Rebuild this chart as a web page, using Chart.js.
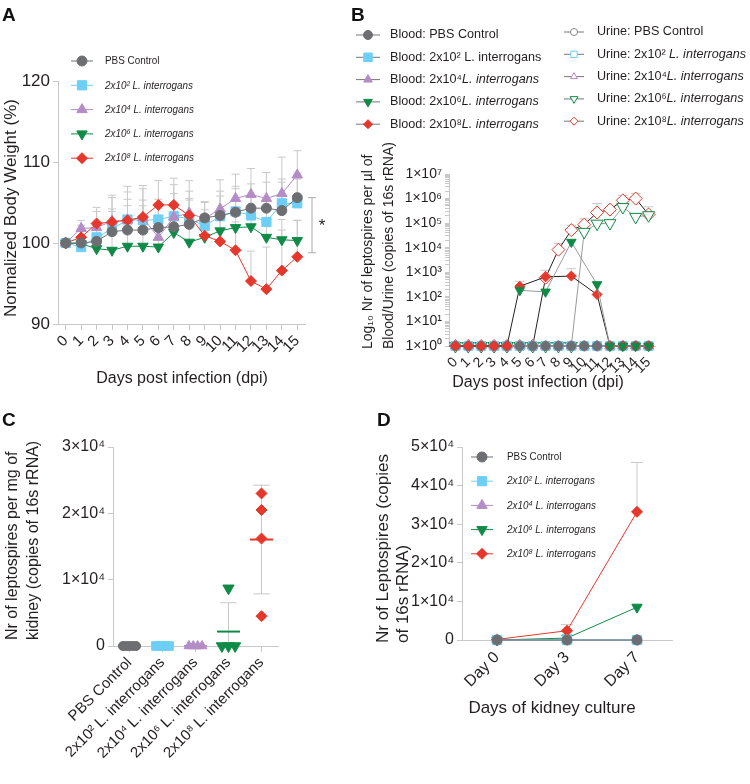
<!DOCTYPE html>
<html>
<head>
<meta charset="utf-8">
<script src="https://cdn.jsdelivr.net/npm/chart.js@4.4.1/dist/chart.umd.min.js"></script>
<style>
  body { margin: 0; background: #fff; }
  #figura { position: relative; width: 750px; height: 784px; overflow: hidden; }
  .painel { position: absolute; }
  .letra { position: absolute; font: bold 19px "Liberation Sans", Arial, sans-serif; line-height: 19px; color: #111; }
</style>
</head>
<body>
<div id="figura">
  <div class="painel" style="left:0;top:0;width:350px;height:400px"><canvas id="graficoA"></canvas></div>
  <div class="painel" style="left:350px;top:0;width:400px;height:400px"><canvas id="graficoB"></canvas></div>
  <div class="painel" style="left:0;top:400px;width:375px;height:384px"><canvas id="graficoC"></canvas></div>
  <div class="painel" style="left:375px;top:400px;width:375px;height:384px"><canvas id="graficoD"></canvas></div>
  <div class="letra" style="left:2px;top:5px">A</div>
  <div class="letra" style="left:351px;top:5px">B</div>
  <div class="letra" style="left:2px;top:410px">C</div>
  <div class="letra" style="left:377px;top:410px">D</div>
</div>
<script>
// Painel A - peso corporal normalizado (%)
const diasA = ['0','1','2','3','4','5','6','7','8','9','10','11','12','13','14','15'];
const pesoPBS = [100, 100, 100.2, 101.4, 101.6, 101.6, 101.9, 102.0, 102.3, 103.1, 103.4, 103.8, 104.3, 104.3, 104.0, 105.6];
const pesoE2  = [100, 99.5, 100.7, 101.7, 102.9, 102.8, 102.9, 103.3, 103.0, 102.1, 103.3, 103.9, 103.4, 102.6, 104.9, 104.9];
const pesoE4  = [100, 101.8, 101.9, 102.7, 102.8, 103.1, 100.7, 103.2, 103.7, 103.0, 104.2, 105.5, 106.0, 105.5, 106.1, 108.4];
const pesoE6  = [100, 99.9, 99.3, 99.1, 99.6, 99.6, 99.5, 101.3, 100.1, 100.7, 101.5, 101.9, 102.0, 100.7, 100.4, 100.3];
const pesoE8  = [100, 100.7, 102.4, 102.6, 102.8, 103.2, 104.7, 104.7, 103.4, 100.9, 100.2, 99.1, 95.3, 94.3, 96.6, 98.3];
// erro (parte superior) de cada grupo
const erroPBS = [0, 1.5, 2.0, 2.5, 3.0, 3.0, 3.0, 3.0, 3.0, 2.0, 3.0, 3.2, 3.0, 3.2, 3.5, 3.0];
const erroE2  = [0, 1.0, 1.5, 2.5, 2.5, 2.5, 2.5, 2.8, 2.5, 2.0, 2.5, 2.8, 2.5, 3.0, 3.0, 3.0];
const erroE4  = [0, 1.0, 2.0, 3.2, 4.2, 4.0, 4.0, 4.0, 4.0, 2.0, 3.6, 3.0, 3.2, 3.2, 4.5, 3.0];
const erroE6  = [0, 1.0, 1.5, 2.0, 2.0, 2.0, 2.0, 2.5, 2.0, 2.0, 2.0, 2.0, 2.0, 2.0, 2.5, 2.5];
const erroE8  = [0, 1.5, 2.0, 3.0, 3.5, 3.5, 3.0, 3.3, 3.0, 2.5, 3.0, 3.5, 3.7, 5.2, 5.0, 4.5];
const chaveA = [98.8, 105.6]; // barra de significancia (*)

// Painel B - leptospiras no sangue e na urina (escala log)
const diasB = ['0','1','2','3','4','5','6','7','8','9','10','11','12','13','14','15'];
const sangueBase = [1, 1, 1, 1, 1, 1, 1, 1, 1, 1, 1, 1, 1, 1, 1, 1];
const sangueE6 = [null, null, null, null, null, 185, null, 160, null, 17000, null, 320, 1, 1, 1, 1];
const sangueE8 = [1, 1, 1, 1, 1, 270, null, 650, null, 700, null, 125, 1, 1, 1, 1];
const erroSangueE8 = [0, 0, 0, 0, 0, 160, 0, 550, 0, 700, 0, 0, 0, 0, 0, 0];
const urinaBase = [1, 1, 1, 1, 1, 1, 1, 1, 1, 1, 1, 1, 1, 1, 1, 1];
const urinaE6 = [1, 1, 1, 1, 1, 1, 1, 1, 1, 1, 44000, 95000, 100000, 450000, 180000, 210000];
const urinaE8 = [1, 1, 1, 1, 1, 1, 1, 600, 8300, 52000, 87000, 270000, 355000, 850000, 1000000, 224000];
const erroUrinaE8 = [0, 0, 0, 0, 0, 0, 0, 0, 6700, 30000, 63000, 360000, 0, 500000, 600000, 236000];

// Painel C - leptospiras por mg de rim (animais individuais)
const gruposC = ['PBS Control', '2x10\u00b2 L. interrogans', '2x10\u2074 L. interrogans', '2x10\u2076 L. interrogans', '2x10\u2078 L. interrogans'];
const rimPBS = [0, 0, 0, 0, 0];
const rimE2  = [0, 0, 0, 0, 0];
const rimE4  = [0, 0, 0, 0];
const rimE6  = [0, 0, 0, 8700];
const rimE8  = [23000, 20500, 16200, 4500];

// Painel D - cultura de rim
const diasCultura = ['Day 0', 'Day 3', 'Day 7'];
const culturaPBS = [0, 0, 0];
const culturaE2  = [0, 0, 0];
const culturaE4  = [0, 0, 0];
const culturaE6  = [0, 500, 8500];
const culturaE8  = [150, 2400, 33200];
const erroCulturaE8 = [0, 1600, 12800];

// Cores e fontes
const cinza = '#6d6e71', azul = '#6dcff6', roxo = '#b48cc6', verde = '#0f8b47', vermelho = '#e5372c';
const corEixo = '#c8c8c8', corTexto = '#231f20', corErro = '#c9c9c9';
const fonte = '"Liberation Sans", Arial, sans-serif';
const sobrescrito = '\u2070\u00b9\u00b2\u00b3\u2074\u2075\u2076\u2077\u2078\u2079';

Chart.defaults.font.family = fonte;
Chart.defaults.color = corTexto;
Chart.defaults.animation = false;
Chart.defaults.plugins.legend.display = false;
Chart.defaults.plugins.tooltip.enabled = false;

// Barras de erro (só para cima), desenhadas atrás dos pontos
const pluginErro = {
    id: 'barrasErro',
    beforeDatasetsDraw(chart, args, opc) {
        const ctx = chart.ctx;
        const escalaY = chart.scales.y;
        ctx.save();
        ctx.strokeStyle = corErro;
        ctx.lineWidth = 1;
        chart.data.datasets.forEach((ds, i) => {
            if (!ds.erro) return;
            chart.getDatasetMeta(i).data.forEach((ponto, j) => {
                const v = ds.data[j];
                const e = ds.erro[j];
                if (v == null || !e) return;
                const yTopo = escalaY.getPixelForValue(v + e);
                ctx.beginPath();
                ctx.moveTo(ponto.x, ponto.y);
                ctx.lineTo(ponto.x, yTopo);
                ctx.moveTo(ponto.x - opc.cap, yTopo);
                ctx.lineTo(ponto.x + opc.cap, yTopo);
                ctx.stroke();
            });
        });
        ctx.restore();
    }
};

// Textos livres (títulos de eixo, asterisco)
const pluginTextos = {
    id: 'textos',
    afterDraw(chart, args, opc) {
        const ctx = chart.ctx;
        (opc.itens || []).forEach(t => {
            ctx.save();
            ctx.translate(t.x, t.y);
            if (t.rot) ctx.rotate(t.rot * Math.PI / 180);
            ctx.font = t.tamanho + 'px ' + fonte;
            ctx.fillStyle = corTexto;
            ctx.textAlign = t.alinhar || 'center';
            ctx.textBaseline = 'middle';
            ctx.fillText(t.texto, 0, 0);
            ctx.restore();
        });
    }
};

// Legenda com trechos em itálico e marcadores iguais aos do gráfico
const pluginLegenda = {
    id: 'legendaRica',
    afterDraw(chart, args, opc) {
        const ctx = chart.ctx;
        (opc.colunas || []).forEach(col => {
            col.itens.forEach((item, i) => {
                const y = col.y + i * col.passo;
                ctx.save();
                ctx.lineWidth = 1;
                ctx.strokeStyle = col.corLinha || item.cor;
                ctx.beginPath();
                ctx.moveTo(col.x - col.meiaLinha, y);
                ctx.lineTo(col.x + col.meiaLinha, y);
                ctx.stroke();
                ctx.fillStyle = item.aberto ? '#fff' : item.cor;
                ctx.strokeStyle = item.cor;
                Chart.helpers.drawPoint(ctx, { pointStyle: item.estilo, rotation: item.rot || 0, radius: item.raio, borderWidth: 1 }, col.x, y);
                ctx.translate(col.xTexto, y);
                ctx.scale(col.escala || 1, 1);
                ctx.fillStyle = corTexto;
                ctx.textBaseline = 'middle';
                let x = 0;
                item.partes.forEach(([txt, italico]) => {
                    ctx.font = (italico ? 'italic ' : '') + col.tamanho + 'px ' + fonte;
                    ctx.fillText(txt, x, 0);
                    x += ctx.measureText(txt).width;
                });
                ctx.restore();
            });
        });
    }
};

// Barra de significância do painel A
const pluginChave = {
    id: 'chave',
    afterDraw(chart, args, opc) {
        if (!opc.valores) return;
        const ctx = chart.ctx;
        const y1 = chart.scales.y.getPixelForValue(opc.valores[0]);
        const y2 = chart.scales.y.getPixelForValue(opc.valores[1]);
        const x = chart.chartArea.right + opc.distancia;
        ctx.save();
        ctx.strokeStyle = '#aaa';
        ctx.lineWidth = 1;
        ctx.beginPath();
        ctx.moveTo(x - 4, y1); ctx.lineTo(x + 4, y1);
        ctx.moveTo(x, y1); ctx.lineTo(x, y2);
        ctx.moveTo(x - 4, y2); ctx.lineTo(x + 4, y2);
        ctx.stroke();
        ctx.restore();
    }
};

// Média e desvio padrão do painel C (calculados a partir dos animais)
function mediaDP(valores) {
    const n = valores.length;
    const media = valores.reduce((a, b) => a + b, 0) / n;
    const dp = Math.sqrt(valores.reduce((a, b) => a + (b - media) ** 2, 0) / (n - 1));
    return { media, dp };
}

const pluginMedia = {
    id: 'mediaDP',
    beforeDatasetsDraw(chart) {
        const ctx = chart.ctx, ex = chart.scales.x, ey = chart.scales.y;
        ctx.save();
        ctx.strokeStyle = corErro;
        ctx.lineWidth = 1;
        chart.data.datasets.forEach((ds, i) => {
            const { media, dp } = mediaDP(ds.valores);
            if (!dp) return;
            const xc = ex.getPixelForValue(i);
            const cap = ex.getPixelForValue(i + 0.25) - xc;
            const topo = ey.getPixelForValue(media + dp);
            const baixo = ey.getPixelForValue(Math.max(media - dp, 0));
            ctx.beginPath();
            ctx.moveTo(xc, topo); ctx.lineTo(xc, baixo);
            ctx.moveTo(xc - cap, topo); ctx.lineTo(xc + cap, topo);
            if (media - dp > 0) { ctx.moveTo(xc - cap, baixo); ctx.lineTo(xc + cap, baixo); }
            ctx.stroke();
        });
        ctx.restore();
    },
    afterDatasetsDraw(chart) {
        const ctx = chart.ctx, ex = chart.scales.x, ey = chart.scales.y;
        ctx.save();
        ctx.lineWidth = 2;
        chart.data.datasets.forEach((ds, i) => {
            const { media } = mediaDP(ds.valores);
            const xc = ex.getPixelForValue(i);
            const meia = ex.getPixelForValue(i + 0.35) - xc;
            const y = ey.getPixelForValue(media);
            ctx.strokeStyle = ds.backgroundColor;
            ctx.beginPath();
            ctx.moveTo(xc - meia, y); ctx.lineTo(xc + meia, y);
            ctx.stroke();
        });
        ctx.restore();
    }
};

// Espalha horizontalmente os animais com valores repetidos
function espalhar(valores, grupo) {
    return valores.map((v, k) => {
        const iguais = valores.filter(w => w === v).length;
        if (iguais < 2) return { x: grupo, y: v };
        const pos = valores.slice(0, k).filter(w => w === v).length;
        return { x: grupo + (pos - (iguais - 1) / 2) * 0.4 / (iguais - 1), y: v };
    });
}

function serie(valores, cor, estilo, rot, raio, extra) {
    return Object.assign({
        data: valores,
        borderColor: cor,
        backgroundColor: cor,
        pointBackgroundColor: cor,
        pointBorderColor: cor,
        pointStyle: estilo,
        pointRotation: rot,
        pointRadius: raio,
        pointBorderWidth: 1,
        borderWidth: 1,
        tension: 0,
        clip: false,
        spanGaps: true
    }, extra || {});
}

function eixoX(altura, tamanho, extra) {
    return Object.assign({
        offset: true,
        grid: { drawOnChartArea: false, color: corEixo, tickLength: 6 },
        border: { color: corEixo },
        ticks: { font: { size: tamanho }, minRotation: 45, maxRotation: 45, autoSkip: false, padding: 2, color: corTexto },
        afterFit: s => { s.height = altura; }
    }, extra || {});
}

function eixoY(largura, tamanho, extra) {
    return Object.assign({
        grid: { drawOnChartArea: false, color: corEixo, tickLength: 5 },
        border: { color: corEixo },
        afterFit: s => { s.width = largura; }
    }, extra || {}, {
        ticks: Object.assign({ font: { size: tamanho }, padding: 3, color: corTexto }, (extra && extra.ticks) || {})
    });
}

const itensPadrao = [
    { partes: [['PBS Control', false]], cor: cinza, estilo: 'circle', raio: 5 },
    { partes: [['2x10\u00b2 L. interrogans', true]], cor: azul, estilo: 'rect', raio: 6.5 },
    { partes: [['2x10\u2074 L. interrogans', true]], cor: roxo, estilo: 'triangle', raio: 6 },
    { partes: [['2x10\u2076 L. interrogans', true]], cor: verde, estilo: 'triangle', rot: 180, raio: 6 },
    { partes: [['2x10\u2078 L. interrogans', true]], cor: vermelho, estilo: 'rectRot', raio: 5.5 }
];

// ---------- Painel A ----------
new Chart(document.getElementById('graficoA'), {
    type: 'line',
    data: {
        labels: diasA,
        datasets: [
            serie(pesoPBS, cinza, 'circle', 0, 5, { erro: erroPBS }),
            serie(pesoE8, vermelho, 'rectRot', 0, 5.5, { erro: erroE8 }),
            serie(pesoE4, roxo, 'triangle', 0, 6, { erro: erroE4 }),
            serie(pesoE2, azul, 'rect', 0, 6.5, { erro: erroE2 }),
            serie(pesoE6, verde, 'triangle', 180, 6, { erro: erroE6 })
        ]
    },
    options: {
        responsive: true,
        maintainAspectRatio: false,
        layout: { padding: { top: 81, right: 45, left: 0, bottom: 0 } },
        scales: {
            x: eixoX(76, 15),
            y: eixoY(58, 17, { min: 90, max: 120, ticks: { stepSize: 10 } })
        },
        plugins: {
            barrasErro: { cap: 4 },
            chave: { valores: chaveA, distancia: 7 },
            legendaRica: { colunas: [{ x: 82, meiaLinha: 11, xTexto: 105, y: 61, passo: 24.3, tamanho: 11.5, escala: 0.86, corLinha: null, itens: itensPadrao }] },
            textos: { itens: [
                { texto: 'Normalized Body Weight (%)', x: 11, y: 317, rot: -90, tamanho: 17, alinhar: 'left' },
                { texto: 'Days post infection (dpi)', x: 182, y: 379, tamanho: 16 },
                { texto: '*', x: 322, y: 226, tamanho: 17 }
            ] }
        }
    },
    plugins: [pluginErro, pluginChave, pluginLegenda, pluginTextos]
});

// ---------- Painel B ----------
function rotuloLog(v) {
    const p = Math.round(Math.log10(v));
    if (10 ** p !== v) return '';
    return '1\u00d710' + sobrescrito[p];
}

const aberto = { pointBackgroundColor: '#fff' };
new Chart(document.getElementById('graficoB'), {
    type: 'line',
    data: {
        labels: diasB,
        datasets: [
            serie(sangueE6, verde, 'triangle', 180, 5.5, { borderColor: '#9a9a9a' }),
            serie(sangueE8, vermelho, 'rectRot', 0, 5, { borderColor: '#222', erro: erroSangueE8 }),
            serie(sangueBase, cinza, 'circle', 0, 4.5),
            serie(sangueBase, azul, 'rect', 0, 6),
            serie(sangueBase, roxo, 'triangle', 0, 5.5),
            serie(urinaBase, '#c9a3d6', 'circle', 0, 5, aberto),
            serie(urinaBase, azul, 'rect', 0, 6, aberto),
            serie(urinaBase, roxo, 'triangle', 0, 6, aberto),
            serie(urinaE6, verde, 'triangle', 180, 7, Object.assign({ borderColor: '#9a9a9a' }, aberto)),
            serie(urinaE8, vermelho, 'rectRot', 0, 6.5, Object.assign({ borderColor: '#222', erro: erroUrinaE8 }, aberto))
        ]
    },
    options: {
        responsive: true,
        maintainAspectRatio: false,
        layout: { padding: { top: 174, right: 95, left: 0, bottom: 0 } },
        scales: {
            x: eixoX(54, 14),
            y: eixoY(99, 14, {
                type: 'logarithmic',
                min: 1,
                max: 1e7,
                afterBuildTicks: s => {
                    const marcas = [];
                    for (let d = 0; d < 7; d++) {
                        for (let k = 1; k < 10; k++) marcas.push({ value: k * 10 ** d });
                    }
                    marcas.push({ value: 1e7 });
                    s.ticks = marcas;
                },
                grid: { drawOnChartArea: false, color: corEixo, tickLength: 4 },
                ticks: { autoSkip: false, callback: rotuloLog }
            })
        },
        plugins: {
            barrasErro: { cap: 5 },
            legendaRica: { colunas: [
                { x: 18, meiaLinha: 12, xTexto: 40, y: 35, passo: 22.3, tamanho: 12.6, corLinha: '#777', itens: [
                    { partes: [['Blood: PBS Control', false]], cor: cinza, estilo: 'circle', raio: 4.5 },
                    { partes: [['Blood: 2x10\u00b2 L. interrogans', false]], cor: azul, estilo: 'rect', raio: 6 },
                    { partes: [['Blood: 2x10\u2074', false], ['L. interrogans', true]], cor: roxo, estilo: 'triangle', raio: 5 },
                    { partes: [['Blood: 2x10\u2076', false], ['L. interrogans', true]], cor: verde, estilo: 'triangle', rot: 180, raio: 5 },
                    { partes: [['Blood: 2x10\u2078', false], ['L. interrogans', true]], cor: vermelho, estilo: 'rectRot', raio: 4.5 }
                ] },
                { x: 224, meiaLinha: 10, xTexto: 247, y: 32, passo: 22.3, tamanho: 12.6, corLinha: '#777', itens: [
                    { partes: [['Urine: PBS Control', false]], cor: '#888', estilo: 'circle', raio: 3.5, aberto: true },
                    { partes: [['Urine: 2x10\u00b2 ', false], ['L. interrogans', true]], cor: azul, estilo: 'rect', raio: 4.5, aberto: true },
                    { partes: [['Urine: 2x10\u2074', false], ['L. interrogans', true]], cor: roxo, estilo: 'triangle', raio: 4, aberto: true },
                    { partes: [['Urine: 2x10\u2076', false], ['L. interrogans', true]], cor: verde, estilo: 'triangle', rot: 180, raio: 4.5, aberto: true },
                    { partes: [['Urine: 2x10\u2078', false], ['L. interrogans', true]], cor: vermelho, estilo: 'rectRot', raio: 4, aberto: true }
                ] }
            ] },
            textos: { itens: [
                { texto: 'Log\u2081\u2080 Nr of leptospires per \u00b5l of', x: 18, y: 349, rot: -90, tamanho: 14, alinhar: 'left' },
                { texto: 'Blood/Urine (copies of 16s rRNA)', x: 39, y: 349, rot: -90, tamanho: 14, alinhar: 'left' },
                { texto: 'Days post infection (dpi)', x: 188, y: 383, tamanho: 16 }
            ] }
        }
    },
    plugins: [pluginErro, pluginLegenda, pluginTextos]
});

// ---------- Painel C ----------
function pontosC(valores, grupo, cor, estilo, rot, raio) {
    return {
        data: espalhar(valores, grupo),
        valores: valores,
        backgroundColor: cor,
        borderColor: cor,
        pointStyle: estilo,
        pointRotation: rot,
        pointRadius: raio,
        clip: false
    };
}

new Chart(document.getElementById('graficoC'), {
    type: 'scatter',
    data: {
        datasets: [
            pontosC(rimPBS, 0, cinza, 'circle', 0, 4.5),
            pontosC(rimE2, 1, azul, 'rect', 0, 6),
            pontosC(rimE4, 2, roxo, 'triangle', 0, 5.5),
            pontosC(rimE6, 3, verde, 'triangle', 180, 6.5),
            pontosC(rimE8, 4, vermelho, 'rectRot', 0, 5.5)
        ]
    },
    options: {
        responsive: true,
        maintainAspectRatio: false,
        layout: { padding: { top: 47, right: 97, left: 0, bottom: 0 } },
        scales: {
            x: eixoX(138, 15, {
                type: 'linear',
                offset: false,
                min: -0.5,
                max: 4.5,
                afterBuildTicks: s => { s.ticks = gruposC.map((nome, i) => ({ value: i })); },
                ticks: { font: { size: 15 }, minRotation: 45, maxRotation: 45, autoSkip: false, padding: 2, color: corTexto,
                    callback: v => gruposC[v] }
            }),
            y: eixoY(113, 16, { min: 0, max: 30000, ticks: { stepSize: 10000,
                callback: v => v === 0 ? '0' : (v / 10000) + '\u00d710\u2074' } })
        },
        plugins: {
            textos: { itens: [
                { texto: 'Nr of leptospires per mg of', x: 13, y: 240, rot: -90, tamanho: 16, alinhar: 'left' },
                { texto: 'kidney (copies of 16s rRNA)', x: 34, y: 240, rot: -90, tamanho: 16, alinhar: 'left' }
            ] }
        }
    },
    plugins: [pluginMedia, pluginTextos]
});

// ---------- Painel D ----------
new Chart(document.getElementById('graficoD'), {
    type: 'line',
    data: {
        labels: diasCultura,
        datasets: [
            serie(culturaPBS, cinza, 'circle', 0, 5),
            serie(culturaE2, azul, 'rect', 0, 6.5),
            serie(culturaE4, roxo, 'triangle', 0, 6),
            serie(culturaE8, vermelho, 'rectRot', 0, 5.5, { erro: erroCulturaE8 }),
            serie(culturaE6, verde, 'triangle', 180, 6)
        ]
    },
    options: {
        responsive: true,
        maintainAspectRatio: false,
        layout: { padding: { top: 47, right: 78, left: 0, bottom: 0 } },
        scales: {
            x: eixoX(144, 16),
            y: eixoY(87, 16, { min: 0, max: 50000, ticks: { stepSize: 10000,
                callback: v => v === 0 ? '0' : (v / 10000) + '\u00d710\u2074' } })
        },
        plugins: {
            barrasErro: { cap: 6 },
            legendaRica: { colunas: [{ x: 107, meiaLinha: 11, xTexto: 132, y: 57, passo: 24.2, tamanho: 11.5, escala: 0.86, itens: itensPadrao }] },
            textos: { itens: [
                { texto: 'Nr of Leptospires (copies', x: 8, y: 243, rot: -90, tamanho: 17, alinhar: 'left' },
                { texto: 'of 16s rRNA)', x: 28, y: 243, rot: -90, tamanho: 17, alinhar: 'left' },
                { texto: 'Days of kidney culture', x: 177, y: 308, tamanho: 17 }
            ] }
        }
    },
    plugins: [pluginErro, pluginLegenda, pluginTextos]
});
</script>
</body>
</html>
